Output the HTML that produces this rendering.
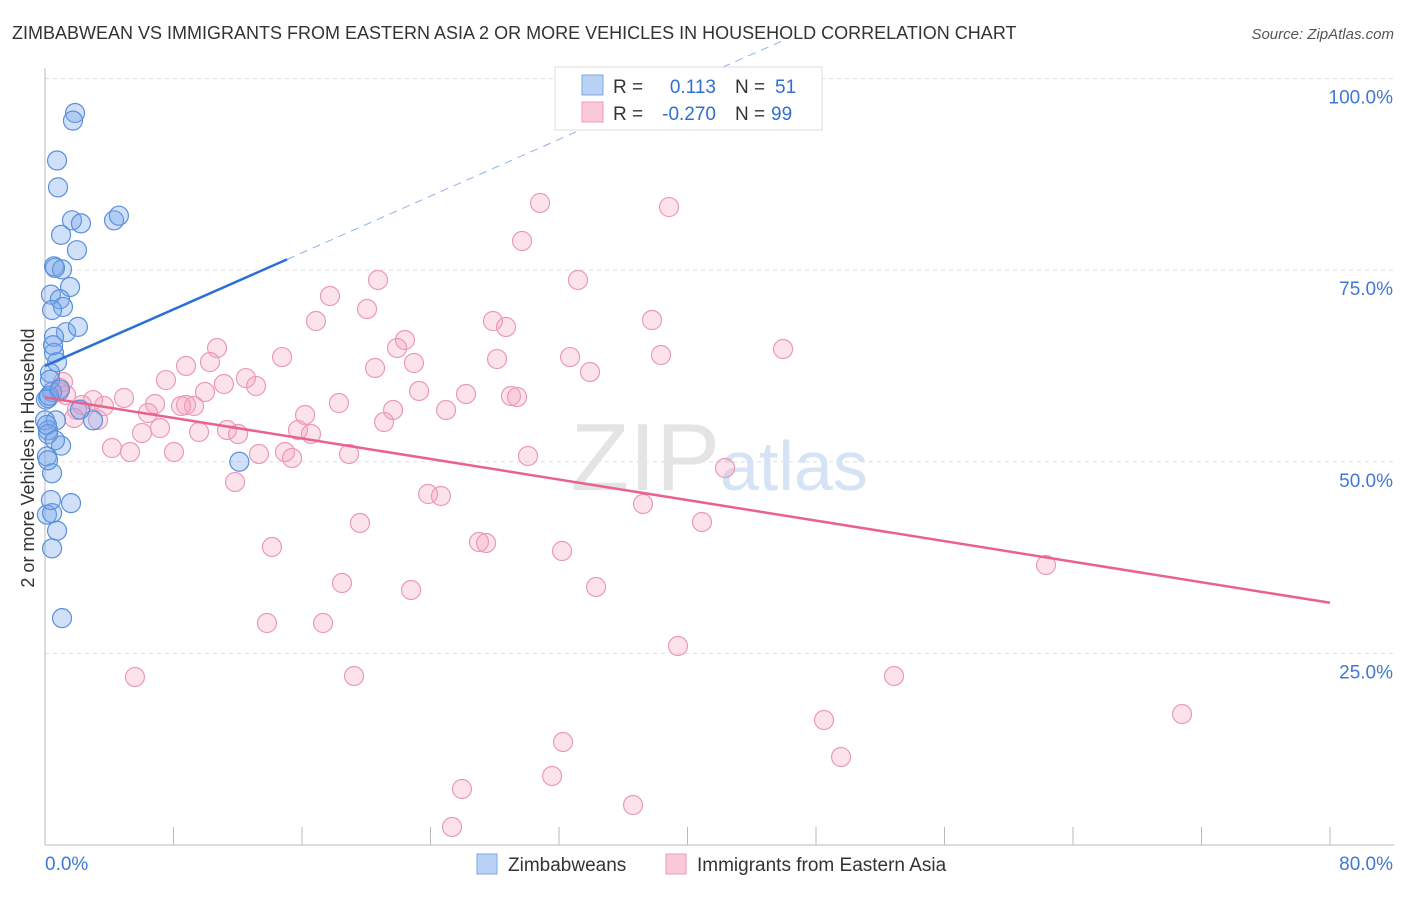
<!DOCTYPE html>
<html><head><meta charset="utf-8"><style>
body{margin:0;background:#fff;font-family:"Liberation Sans",sans-serif;}
svg text{font-family:"Liberation Sans",sans-serif;}
</style></head><body>
<svg id="chart" width="1406" height="892" xmlns="http://www.w3.org/2000/svg">
<text x="12" y="39" font-size="18" fill="#333">ZIMBABWEAN VS IMMIGRANTS FROM EASTERN ASIA 2 OR MORE VEHICLES IN HOUSEHOLD CORRELATION CHART</text>
<text x="1394" y="39" font-size="15" fill="#555" font-style="italic" text-anchor="end">Source: ZipAtlas.com</text>
<text x="34" y="458" font-size="18" fill="#333" text-anchor="middle" transform="rotate(-90 34 458)">2 or more Vehicles in Household</text>
<g id="grid"></g>
<text x="720" y="490" font-size="96" fill="#e4e4e4" font-family="Liberation Serif" text-anchor="end">ZIP</text>
<text x="720" y="490" font-size="70" fill="#d6e3f5">atlas</text>
<g id="points"></g>
<g id="lines"></g>
<g>
<rect x="555" y="67" width="267" height="63" fill="#fff" stroke="#ddd"/>
<rect x="582" y="75" width="21" height="20" fill="#b9d2f5" stroke="#7aa7e6"/>
<rect x="582" y="102" width="21" height="20" fill="#fcc9d8" stroke="#ee9ab4"/>
<text x="613" y="93" font-size="19" fill="#333">R =</text>
<text x="716" y="93" font-size="19" fill="#2f6fd0" text-anchor="end">0.113</text>
<text x="735" y="93" font-size="19" fill="#333">N =</text>
<text x="775" y="93" font-size="19" fill="#2f6fd0">51</text>
<text x="613" y="120" font-size="19" fill="#333">R =</text>
<text x="716" y="120" font-size="19" fill="#2f6fd0" text-anchor="end">-0.270</text>
<text x="735" y="120" font-size="19" fill="#333">N =</text>
<text x="771" y="120" font-size="19" fill="#2f6fd0">99</text>
</g>
<g>
<rect x="477" y="854" width="20" height="20" fill="#b9d2f5" stroke="#7aa7e6"/>
<text x="508" y="871" font-size="19" fill="#333">Zimbabweans</text>
<rect x="666" y="854" width="20" height="20" fill="#fcc9d8" stroke="#ee9ab4"/>
<text x="697" y="871" font-size="19" fill="#333">Immigrants from Eastern Asia</text>
</g>
</svg>
<script>
const blueX=[1.87,1.74,0.75,0.81,1.68,2.24,1.0,1.99,4.3,4.6,0.56,1.06,0.62,0.37,1.56,0.93,1.12,0.44,1.31,2.05,0.56,0.56,0.75,0.31,0.44,0.19,0.68,0.0,0.19,0.19,1.0,0.12,0.44,1.62,0.12,0.44,0.75,0.44,1.06,2.99,12.1,0.19,0.31,0.5,0.06,2.18,0.25,0.93,0.12,0.62,0.37];
const blueY=[95.5,94.5,89.3,85.8,81.5,81.1,79.6,77.6,81.5,82.1,75.5,75.1,75.3,71.8,72.8,71.2,70.2,69.8,66.9,67.6,66.3,64.2,63.0,61.6,59.1,58.3,55.4,55.4,54.1,53.6,52.1,50.7,48.5,44.6,43.1,43.3,41.0,38.7,29.6,55.4,50.0,50.2,60.7,65.2,58.1,56.8,58.6,59.4,54.8,52.8,45.0];
const pinkX=[43.08,30.82,38.85,29.70,20.73,33.18,17.74,20.05,27.89,28.70,37.79,16.87,22.41,21.92,22.97,20.55,32.69,33.93,38.35,28.14,45.95,14.76,10.71,10.27,8.78,7.53,11.14,12.51,13.14,9.96,23.29,26.21,29.01,29.39,18.30,21.67,24.97,21.11,16.19,8.78,9.28,8.47,6.85,6.41,4.92,3.67,2.99,2.30,0.87,1.12,1.31,0.93,1.99,1.81,3.30,7.16,6.04,9.59,11.33,12.02,15.75,16.56,4.17,5.29,8.03,13.32,14.94,15.38,18.93,30.07,42.34,11.83,23.85,24.65,19.61,37.23,40.90,27.02,27.46,32.19,14.13,62.32,18.49,22.79,34.31,13.82,17.31,39.41,5.60,19.24,52.86,48.50,70.79,32.25,49.56,31.57,25.96,36.61,25.34];
const pinkY=[99.8,83.76,83.23,78.80,73.71,73.71,71.62,69.93,68.36,67.58,68.49,68.36,65.88,64.84,62.88,62.23,63.66,61.71,63.93,63.40,64.71,63.66,64.84,63.01,62.49,60.66,60.14,60.92,59.88,59.10,59.23,58.84,58.58,58.45,57.66,56.75,56.75,55.18,56.10,57.40,57.27,57.27,57.53,56.36,58.32,57.27,58.05,57.40,59.10,60.40,58.71,59.62,56.75,55.71,55.45,54.40,53.75,53.88,54.14,53.62,54.14,53.62,51.79,51.27,51.27,51.01,51.27,50.49,51.01,50.75,49.18,47.36,45.79,45.53,42.01,44.49,42.14,39.53,39.40,38.36,38.88,36.53,34.18,33.27,33.66,28.96,28.96,25.96,21.92,22.05,22.05,16.31,17.09,13.44,11.48,9.00,7.31,5.22,2.35];
const yTicks=[100,75,50,25];
const yTickLabels=["100.0%","75.0%","50.0%","25.0%"];
const xTicks=[0,8,16,24,32,40,48,56,64,72,80];
const blueTrend=[[0,62.5],[15.07,76.4]];
const blueTrendExt=[[15.07,76.4],[46,105]];
const pinkTrend=[[0,58.4],[80,31.6]];
const NS='http://www.w3.org/2000/svg';
const X0=45,X1=1330,Y0=845,YH=78.5;
function sx(v){return X0+(v/80)*(X1-X0);}
function sy(v){return Y0-(v/100)*(Y0-YH);}
function mk(t,a,p){const e=document.createElementNS(NS,t);for(const k in a)e.setAttribute(k,a[k]);p.appendChild(e);return e;}
const grid=document.getElementById('grid');
yTicks.forEach((t,i)=>{
  const l=mk('line',{x1:X0,x2:1394,y1:sy(t),y2:sy(t),stroke:'#ddd','stroke-dasharray':'4,4'},grid);
  
  
  const tx=mk('text',{x:1393,y:sy(t)+25,'font-size':19,fill:'#3f78d6','text-anchor':'end'},grid);
  tx.textContent=yTickLabels[i];
  
  
});
const ax=mk('line',{x1:X0,x2:X0,y1:68,y2:Y0,stroke:'#bbb'},grid);


const bx=mk('line',{x1:X0,x2:1394,y1:Y0,y2:Y0,stroke:'#bbb'},grid);


xTicks.forEach(t=>{
  const l=mk('line',{x1:sx(t),x2:sx(t),y1:827,y2:Y0,stroke:'#bbb'},grid);
  
  
});
const xl=mk('text',{x:45,y:870,'font-size':19,fill:'#3f78d6'},grid);xl.textContent='0.0%';


const xr=mk('text',{x:1393,y:870,'font-size':19,fill:'#3f78d6','text-anchor':'end'},grid);xr.textContent='80.0%';


const pts=document.getElementById('points');
pinkX.forEach((v,i)=>{
  const c=mk('circle',{cx:sx(v),cy:sy(pinkY[i]),r:9.5,fill:'rgba(244,160,190,0.3)',stroke:'#eb9ab5','stroke-width':1.2},pts);
  
  
});
blueX.forEach((v,i)=>{
  const c=mk('circle',{cx:sx(v),cy:sy(blueY[i]),r:9.5,fill:'rgba(120,165,235,0.35)',stroke:'#5a90dc','stroke-width':1.2},pts);
  
  
});
const lg=document.getElementById('lines');
const b1=mk('line',{x1:sx(blueTrend[0][0]),y1:sy(blueTrend[0][1]),x2:sx(blueTrend[1][0]),y2:sy(blueTrend[1][1]),stroke:'#2b6fd6','stroke-width':2.5},lg);


const b2=mk('line',{x1:sx(blueTrendExt[0][0]),y1:sy(blueTrendExt[0][1]),x2:sx(blueTrendExt[1][0]),y2:sy(blueTrendExt[1][1]),stroke:'#8fb3e8','stroke-width':1,'stroke-dasharray':'8,6'},lg);


const p1=mk('line',{x1:sx(pinkTrend[0][0]),y1:sy(pinkTrend[0][1]),x2:sx(pinkTrend[1][0]),y2:sy(pinkTrend[1][1]),stroke:'#e8628e','stroke-width':2.5},lg);


</script>
</body></html>
